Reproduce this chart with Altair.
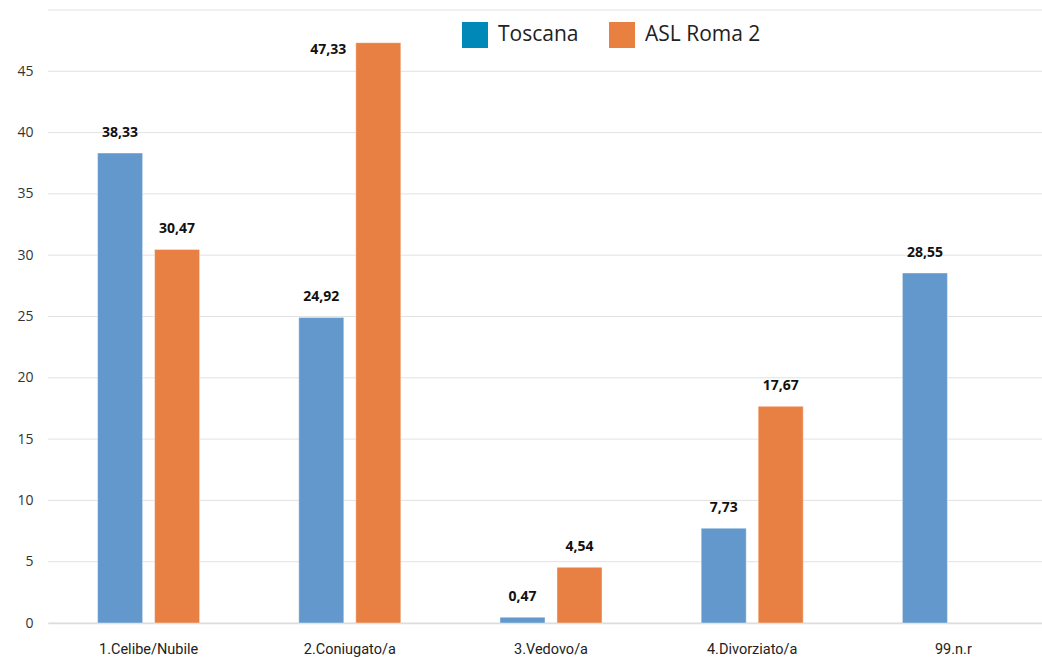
import altair as alt
import pandas as pd

categories = ["1.Celibe/Nubile", "2.Coniugato/a", "3.Vedovo/a", "4.Divorziato/a", "99.n.r"]
series = ["Toscana", "ASL Roma 2"]
toscana = [38.33, 24.92, 0.47, 7.73, 28.55]
roma = [30.47, 47.33, 4.54, 17.67, None]
y_ticks = [0, 5, 10, 15, 20, 25, 30, 35, 40, 45, 50]
bar_colors = ["#6298CC", "#E88044"]
legend_colors = ["#0088B9", "#E8803F"]

rows = []
for c, t, r in zip(categories, toscana, roma):
    for s, v in ((series[0], t), (series[1], r)):
        if v is not None:
            rows.append({"cat": c, "serie": s, "val": v,
                         "lab": f"{v:.2f}".replace(".", ",")})
df = pd.DataFrame(rows)
grid_df = pd.DataFrame({"val": y_ticks})

x = alt.X("cat:N", sort=categories, title=None,
          scale=alt.Scale(range=[0, 1006], paddingInner=0, paddingOuter=0),
          axis=alt.Axis(labelAngle=0, labelFont="Roboto", labelFontSize=14.5,
                        labelColor="#222", labelPadding=19, ticks=False,
                        domainColor="#d9d9d9", domainWidth=1.5, grid=False))
xo = alt.XOffset("serie:N", sort=series,
                 scale=alt.Scale(paddingInner=0.21, paddingOuter=0.87))
y = alt.Y("val:Q", title=None,
          scale=alt.Scale(domain=[0, 50], nice=False),
          axis=alt.Axis(values=y_ticks, labelFont="Open Sans", labelFontSize=14,
                        labelColor="#333", labelPadding=15, ticks=False, domain=False,
                        grid=False,
                        labelExpr="datum.value == 50 ? '' : datum.label"))

gridlines = alt.Chart(grid_df).mark_rule(color="#e2e2e2", strokeWidth=1).encode(
    y=y, x=alt.value(0), x2=alt.value(994))

base = alt.Chart(df)
bars = base.mark_bar(stroke="#ffffff", strokeWidth=0.8, strokeOpacity=0.5).encode(
    x=x, xOffset=xo, y=y,
    color=alt.Color("serie:N", sort=series,
                    scale=alt.Scale(domain=series, range=bar_colors), legend=None),
)
labels = base.transform_filter("datum.val <= 45").mark_text(
    font="Open Sans", fontSize=14, fontWeight="bold", color="#111",
    baseline="bottom", dy=-13).encode(x=x, xOffset=xo, y=y, text="lab:N")
labels_top = base.transform_filter("datum.val > 45").mark_text(
    font="Open Sans", fontSize=14, fontWeight="bold", color="#111",
    align="right", baseline="middle", dx=-32, dy=7).encode(
    x=x, xOffset=xo, y=y, text="lab:N")

leg_df = pd.DataFrame({"serie": series})
leg_layers = []
sq_x = [427, 574]
tx_x = [450, 597]
for i, s in enumerate(series):
    d = alt.Chart(leg_df[leg_df.serie == s])
    leg_layers.append(d.mark_square(size=676, color=legend_colors[i], opacity=1).encode(
        x=alt.value(sq_x[i]), y=alt.value(25)))
    leg_layers.append(d.mark_text(font="Open Sans", fontSize=21, color="#222",
                                  align="left", baseline="middle").encode(
        x=alt.value(tx_x[i]), y=alt.value(25), text="serie:N"))

chart = alt.layer(gridlines, bars, labels, labels_top, *leg_layers).properties(
    width=994, height=613,
    background="white",
    autosize=alt.AutoSizeParams(type="none"),
    padding={"left": 48, "top": 10, "right": 0, "bottom": 37},
    view=alt.ViewBackground(stroke="transparent", strokeWidth=0),
).configure_view(strokeWidth=0, stroke="transparent").configure_axis(grid=False)

chart.save("out.html", embed_options={"renderer": "svg", "actions": False})
